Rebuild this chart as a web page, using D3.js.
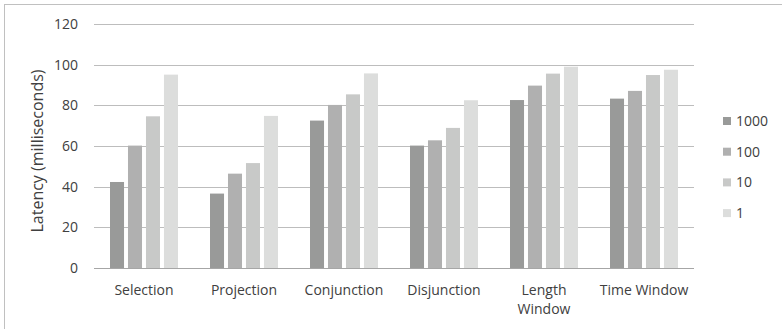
<!DOCTYPE html>
<html>
<head>
<meta charset="utf-8">
<script src="https://cdn.jsdelivr.net/npm/d3@7"></script>
<style>
  html, body { margin: 0; padding: 0; background: #fff; }
  svg { display: block; font-family: "Open Sans", sans-serif; }
</style>
</head>
<body>
<svg id="chart" width="782" height="329"></svg>
<script>
// Query categories and message-rate series (latency in ms)
const categories = ["Selection", "Projection", "Conjunction", "Disjunction", "Length Window", "Time Window"];
const seriesNames = ["1000", "100", "10", "1"];
const s1000 = [42.3, 36.6, 72.5, 60.2, 82.6, 83.3];
const s100  = [60.2, 46.4, 80.2, 62.8, 89.7, 87.1];
const s10   = [74.6, 51.6, 85.4, 68.9, 95.6, 94.9];
const s1    = [95.1, 74.8, 95.7, 82.5, 99.0, 97.5];
const yTicks = [0, 20, 40, 60, 80, 100, 120];
const colors = ["#999a99", "#b0b0b0", "#c8c9c8", "#dcdddc"];

const seriesValues = [s1000, s100, s10, s1];

const svg = d3.select("#chart");
const W = 782, H = 329;
const plot = { left: 94, right: 694, top: 24, bottom: 268 };

// outer frame
svg.append("rect")
  .attr("x", 4.5).attr("y", 4.5)
  .attr("width", W + 10).attr("height", H + 10)
  .attr("fill", "none").attr("stroke", "#c0c0c0").attr("stroke-width", 1);

const x0 = d3.scaleBand().domain(categories).range([plot.left, plot.right]).paddingInner(0.32).paddingOuter(0.16);
const x1 = d3.scaleBand().domain(seriesNames).range([0, x0.bandwidth()]).paddingInner(0.22);
const y = d3.scaleLinear().domain([0, 120]).range([plot.bottom, plot.top]);

// gridlines
svg.append("g").selectAll("line").data(yTicks.filter(d => d > 0)).join("line")
  .attr("x1", plot.left).attr("x2", plot.right)
  .attr("y1", d => Math.round(y(d)) + 0.5).attr("y2", d => Math.round(y(d)) + 0.5)
  .attr("stroke", "#bdbdbd").attr("stroke-width", 1);

// y tick labels
svg.append("g").selectAll("text").data(yTicks).join("text")
  .attr("x", 78).attr("y", d => y(d)).attr("dy", "0.35em")
  .attr("text-anchor", "end").attr("font-size", 14).attr("fill", "#404040")
  .text(d => d);

// bars
const groups = svg.append("g").selectAll("g").data(categories).join("g")
  .attr("transform", c => `translate(${x0(c)},0)`);
groups.selectAll("rect")
  .data((c, i) => seriesNames.map((s, j) => ({ s, v: seriesValues[j][i], j })))
  .join("rect")
  .attr("x", d => x1(d.s))
  .attr("width", x1.bandwidth())
  .attr("y", d => y(d.v))
  .attr("height", d => y(0) - y(d.v))
  .attr("fill", d => colors[d.j]);

// baseline axis
svg.append("line")
  .attr("x1", plot.left).attr("x2", plot.right)
  .attr("y1", plot.bottom + 0.5).attr("y2", plot.bottom + 0.5)
  .attr("stroke", "#a6a6a6").attr("stroke-width", 1);

// category labels (wrap "Length Window")
const catLabels = svg.append("g").selectAll("text").data(categories).join("text")
  .attr("x", c => x0(c) + x0.bandwidth() / 2)
  .attr("y", 295)
  .attr("text-anchor", "middle").attr("font-size", 14).attr("fill", "#404040");
catLabels.each(function (c) {
  const t = d3.select(this);
  const lines = c === "Length Window" ? ["Length", "Window"] : [c];
  lines.forEach((ln, k) => {
    t.append("tspan").attr("x", x0(c) + x0.bandwidth() / 2).attr("dy", k === 0 ? 0 : 18.5).text(ln);
  });
});

// y axis title
svg.append("text")
  .attr("transform", `translate(43,151) rotate(-90)`)
  .attr("text-anchor", "middle").attr("font-size", 16).attr("fill", "#404040")
  .text("Latency (milliseconds)");

// legend
const legend = svg.append("g").selectAll("g").data(seriesNames).join("g")
  .attr("transform", (d, i) => `translate(723,${117 + i * 30.7})`);
legend.append("rect").attr("width", 8).attr("height", 8).attr("fill", (d, i) => colors[i]);
legend.append("text").attr("x", 13).attr("y", 4).attr("dy", "0.36em")
  .attr("font-size", 14).attr("fill", "#404040").text(d => d);
</script>
</body>
</html>
